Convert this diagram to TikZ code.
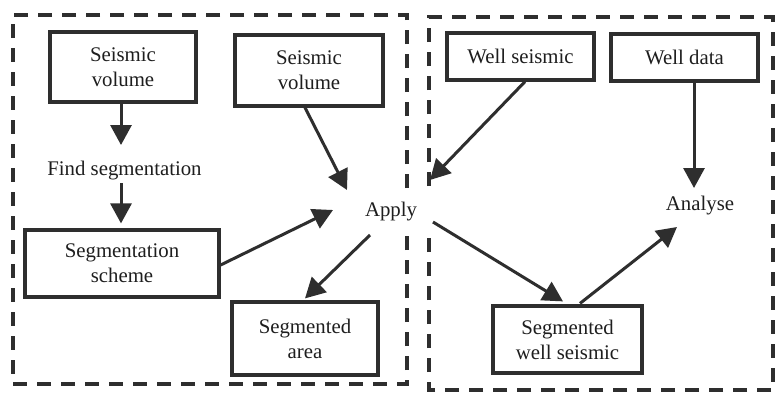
\documentclass[tikz,border=0pt]{standalone}
\usepackage{fontspec}
\setmainfont{Liberation Serif}
\usetikzlibrary{arrows.meta,calc}
\definecolor{ink}{HTML}{2E2E2E}
\definecolor{txt}{HTML}{1E1E1E}
\tikzset{
  box/.style={draw=ink, line width=3.2pt, rectangle, inner sep=0pt, align=center, text=txt,
              font=\fontsize{20.8}{25}\selectfont},
  lbl/.style={inner sep=0pt, text=txt, font=\fontsize{20.8}{25}\selectfont},
  arr/.style={draw=ink, line width=3pt, -{Triangle[length=20pt,width=21pt]}},
  frame/.style={draw=ink, line width=3.6pt, dash pattern=on 14pt off 10pt}
}
\begin{document}
\begin{tikzpicture}[x=1pt,y=-1pt]
\useasboundingbox (0,0) rectangle (776,394);
\fill[white] (0,0) rectangle (776,394);
% dashed frames (open beside "Apply")
\draw[frame] (407,188) -- (407,15) -- (13,15) -- (13,384) -- (407,384) -- (407,229);
\draw[frame] (429,186) -- (429,17) -- (773,17) -- (773,390) -- (429,390) -- (429,229);
% boxes
\node[box, minimum width=146pt, minimum height=70pt] (sv1) at (123,67) {Seismic\\volume};
\node[box, minimum width=148pt, minimum height=71pt] (sv2) at (309,70.5) {Seismic\\volume};
\node[box, minimum width=194pt, minimum height=67pt] (ss) at (122,263.5) {Segmentation\\scheme};
\node[box, minimum width=146pt, minimum height=73pt] (sa) at (305,338.5) {Segmented\\area};
\node[box, minimum width=147pt, minimum height=47pt] (ws) at (520.5,56.5) {Well seismic};
\node[box, minimum width=147pt, minimum height=47pt] (wd) at (684.5,57.5) {Well data};
\node[box, minimum width=149pt, minimum height=67pt] (sws) at (567.5,339.5) {Segmented\\well seismic};
% labels
\node[lbl] (find) at (124.5,171) {Find segmentation};
\node[lbl] (apply) at (391,212) {Apply};
\node[lbl] (analyse) at (700,206) {Analyse};
% arrows
\draw[arr] ($(sv1.south)+(-2,0)$) -- ($(find)+(-3.5,-26)$);
\draw[arr] ($(find)+(-3.5,12)$) -- ($(ss.north)+(-1,-5)$);
\draw[arr] ($(sv2.south)+(-4,0)$) -- ($(apply)+(-44,-22)$);
\draw[arr] ($(ss.east)+(0,1.5)$) -- ($(apply)+(-58,-2)$);
\draw[arr] ($(apply)+(-21,23)$) -- ($(sa.north)+(0,-2)$);
\draw[arr] ($(ws.south)+(4.5,0)$) -- ($(apply)+(39,-32)$);
\draw[arr] ($(wd.south)+(9.5,0)$) -- ($(analyse)+(-6,-18)$);
\draw[arr] ($(apply)+(42,10)$) -- ($(sws.north)+(-4.5,-3)$);
\draw[arr] ($(sws.north)+(12.5,-1)$) -- ($(analyse)+(-23,21)$);
\end{tikzpicture}
\end{document}
